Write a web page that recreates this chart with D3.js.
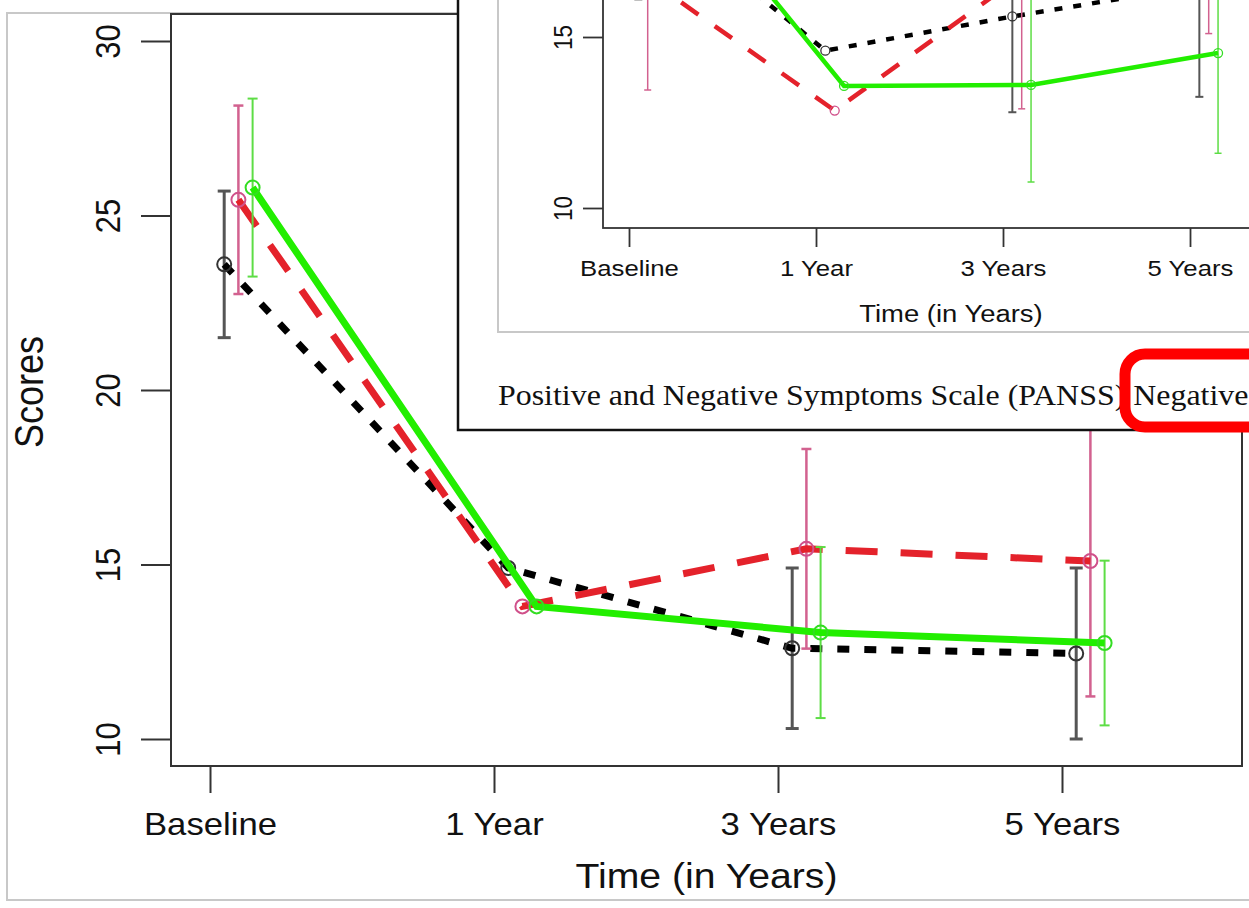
<!DOCTYPE html>
<html><head><meta charset="utf-8">
<script src="https://cdn.jsdelivr.net/npm/d3@7"></script>
<style>
html,body{margin:0;padding:0;background:#fff;overflow:hidden}
svg{display:block}
text{font-family:"Liberation Sans",Arial,Helvetica,sans-serif;fill:#111}
text.cap{font-family:"Liberation Serif","Times New Roman",serif}
</style></head><body>
<svg id="chart" width="1249" height="908"></svg>
<script>
const timeLabels = ["Baseline","1 Year","3 Years","5 Years"];
const timePoints = [1,2,3,4];
const dodge = [0.05,0.1,0.15];
const yTicksMain = [10,15,20,25,30];
const yTicksInset = [10,15];

// main chart (means, +/- error), no bars at 1 year
const mainBlack = [23.6,14.9,12.6,12.45];
const mainBlackErr = [2.1,null,2.3,2.45];
const mainRed = [25.45,13.8,15.45,15.1];
const mainRedErr = [2.7,null,2.86,3.88];
const mainGreen = [25.8,13.8,13.05,12.75];
const mainGreenErr = [2.55,null,2.45,2.36];

// inset (PANSS negative), partly cut off
const insetBlack = [19.1,14.6,15.6,16.5];
const insetBlackErr = [3.0,null,2.8,3.25];
const insetRed = [16.7,12.85,16.8,19.0];
const insetRedErr = [3.25,null,3.9,3.9];
const insetGreen = [20.3,13.57,13.6,14.53];
const insetGreenErr = [3.0,null,2.84,2.93];

const seriesStyle = [
  {line:"#000", bar:"#555", pt:"#333"},
  {line:"#e4222b", bar:"#d2618f", pt:"#d0508a"},
  {line:"#22ee00", bar:"#5ddd45", pt:"#33dd22"}
];

const svg = d3.select("#chart");
const SX = 1.12; // the picture is a bit wide

svg.append("rect").attr("x",7).attr("y",13).attr("width",1300).attr("height",887)
  .attr("fill","#fff").attr("stroke","#c8c8c8").attr("stroke-width",2);

function panel(g, o){
  const x = d3.scaleLinear().domain([1,4]).range(o.xRange);
  const y = d3.scaleLinear().domain(o.yDomain).range(o.yRange);
  const b = o.box;

  g.append("clipPath").attr("id",o.id+"-clip").append("rect")
    .attr("x",b.left).attr("y",b.top).attr("width",b.right-b.left).attr("height",b.bottom-b.top);
  const plot = g.append("g").attr("clip-path",`url(#${o.id}-clip)`);

  o.series.forEach((s,k)=>{
    const st = seriesStyle[k];
    const pts = timePoints.map((t,i)=>({x:t+dodge[k], m:s.means[i], e:s.errs[i]}));
    const withErr = pts.filter(d=>d.e!=null);
    const sg = plot.append("g");
    sg.selectAll("line.bar").data(withErr).join("line").attr("class","bar")
      .attr("x1",d=>x(d.x)).attr("x2",d=>x(d.x))
      .attr("y1",d=>y(d.m-d.e)).attr("y2",d=>y(d.m+d.e))
      .attr("stroke",st.bar).attr("stroke-width",o.barW[k]);
    [-1,1].forEach(sgn=>{
      sg.selectAll("line.cap"+sgn).data(withErr).join("line")
        .attr("x1",d=>x(d.x)-o.capW[k]/2).attr("x2",d=>x(d.x)+o.capW[k]/2)
        .attr("y1",d=>y(d.m+sgn*d.e)).attr("y2",d=>y(d.m+sgn*d.e))
        .attr("stroke",st.bar).attr("stroke-width",o.barW[k]);
    });
    sg.append("path").datum(pts)
      .attr("d",d3.line().x(d=>x(d.x)).y(d=>y(d.m)))
      .attr("fill","none").attr("stroke",st.line).attr("stroke-width",o.lineW)
      .attr("stroke-dasharray",o.dash[k]);
    sg.selectAll("circle").data(pts).join("circle")
      .attr("cx",d=>x(d.x)).attr("cy",d=>y(d.m)).attr("r",o.r)
      .attr("fill","none").attr("stroke",st.pt).attr("stroke-width",o.r/3.5);
  });

  g.append("rect").attr("x",b.left).attr("y",b.top)
    .attr("width",b.right-b.left).attr("height",b.bottom-b.top)
    .attr("fill","none").attr("stroke","#333").attr("stroke-width",o.axisW);

  const xa = g.append("g").attr("transform",`translate(0,${b.bottom})`)
    .call(d3.axisBottom(x).tickValues(timePoints).tickFormat((d,i)=>timeLabels[i])
      .tickSize(o.xTick).tickSizeOuter(0));
  xa.select(".domain").remove();
  xa.selectAll("line").attr("stroke","#333").attr("stroke-width",o.axisW);
  xa.selectAll("text").attr("y",o.xLabelY).attr("dy",null)
    .attr("font-size",o.tickFont).attr("transform",`scale(${SX},1)`).attr("fill",null);

  const ya = g.append("g").attr("transform",`translate(${b.left},0)`)
    .call(d3.axisLeft(y).tickValues(o.yTicks).tickFormat(d3.format("d"))
      .tickSize(o.yTick).tickSizeOuter(0));
  ya.select(".domain").remove();
  ya.selectAll("line").attr("stroke","#333").attr("stroke-width",o.axisW);
  ya.selectAll("text").attr("x",null).attr("dy",null).attr("text-anchor","middle")
    .attr("font-size",o.yFont).attr("fill",null)
    .attr("transform",`translate(${-o.yLabelOff},0) scale(${SX},1) rotate(-90)`);

  g.append("text").attr("text-anchor","middle").attr("font-size",o.titleFont)
    .attr("transform",`translate(${(b.left+b.right)/2},${o.titleY}) scale(${SX},1)`)
    .text("Time (in Years)");
}

// main chart
const main = svg.append("g");
panel(main, {
  id:"main", box:{left:171, top:14, right:1242, bottom:766},
  xRange:[210,1062], yDomain:[10,30], yRange:[739,41], yTicks:yTicksMain,
  series:[{means:mainBlack,errs:mainBlackErr},{means:mainRed,errs:mainRedErr},{means:mainGreen,errs:mainGreenErr}],
  lineW:7, dash:["12,15","32,23",null], barW:[3,2.5,2], capW:[13,10,10], r:7,
  axisW:2, xTick:27, yTick:30, xLabelY:69, yLabelOff:51,
  tickFont:31, yFont:31, titleFont:35, titleY:888
});
main.append("text").attr("text-anchor","middle").attr("font-size",36)
  .attr("transform",`translate(43,392) scale(${SX},1) rotate(-90)`).text("Scores");

// inset figure pasted over the top right
const inset = svg.append("g");
inset.append("rect").attr("x",458).attr("y",-20).attr("width",900).attr("height",450)
  .attr("fill","#fff").attr("stroke","#111").attr("stroke-width",2.5);
inset.append("rect").attr("x",498).attr("y",-20).attr("width",900).attr("height",352)
  .attr("fill","none").attr("stroke","#c8c8c8").attr("stroke-width",2);
panel(inset, {
  id:"inset", box:{left:603, top:-40, right:1299, bottom:228},
  xRange:[629,1190], yDomain:[10,15], yRange:[208,37], yTicks:yTicksInset,
  series:[{means:insetBlack,errs:insetBlackErr},{means:insetRed,errs:insetRedErr},{means:insetGreen,errs:insetGreenErr}],
  lineW:4.5, dash:["8,11","21,20",null], barW:[2,1.5,1.5], capW:[8,7,7], r:4.5,
  axisW:1.8, xTick:19, yTick:20, xLabelY:48, yLabelOff:31,
  tickFont:23, yFont:22.5, titleFont:24.5, titleY:322
});
inset.append("text").attr("class","cap").attr("font-size",28.5)
  .attr("transform",`translate(498,405) scale(${SX},1)`)
  .text("Positive and Negative Symptoms Scale (PANSS) Negative");
inset.append("rect").attr("x",1125).attr("y",354).attr("width",300).attr("height",73)
  .attr("rx",20).attr("fill","none").attr("stroke","#ff0000").attr("stroke-width",11);
</script>
</body></html>
